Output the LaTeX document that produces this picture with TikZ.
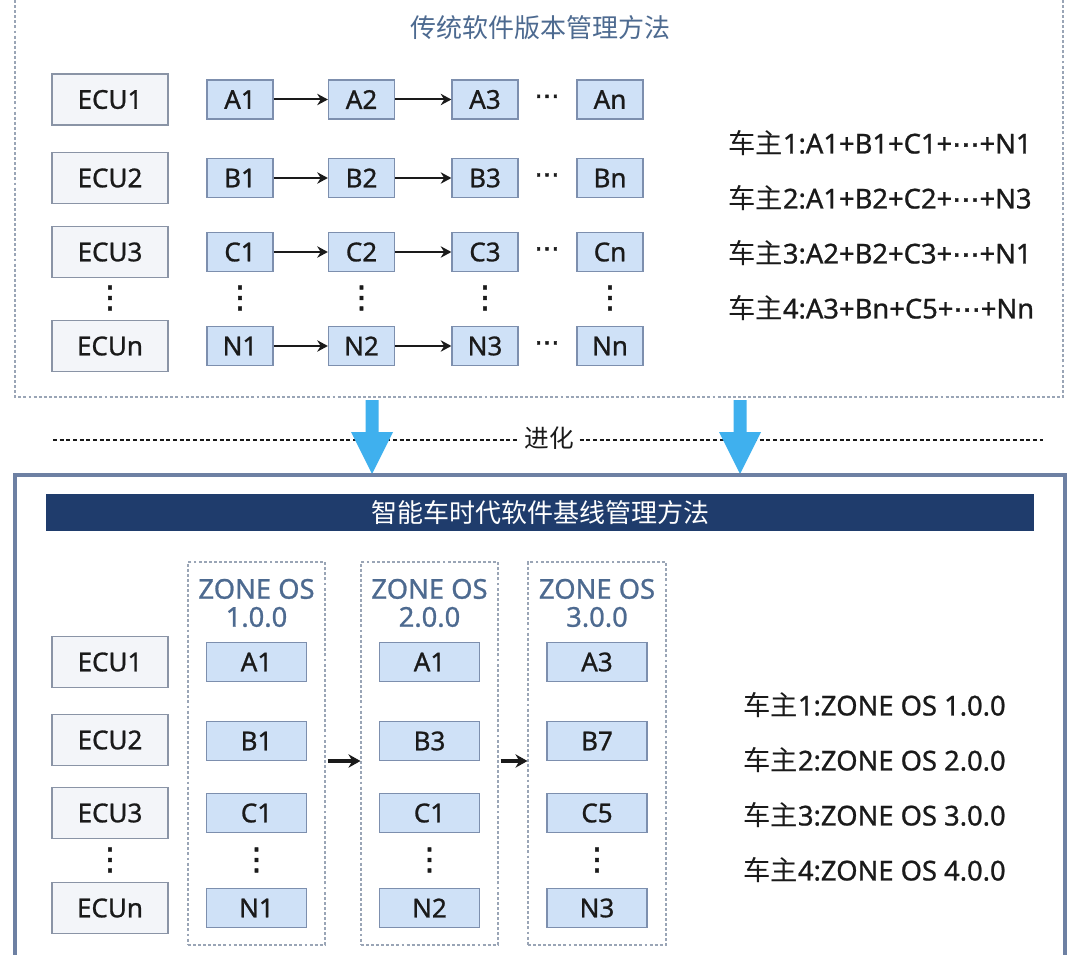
\documentclass[tikz,border=0pt]{standalone}
\usepackage{fontspec}
\setmainfont{Noto Sans}[RawFeature={embolden=0.9}]
\newfontfamily\cjk{Noto Sans CJK SC}
\newfontfamily\sym{DejaVu Sans}[RawFeature={embolden=1.8}]
\usetikzlibrary{arrows.meta}
\definecolor{eculine}{HTML}{8A94A6}
\definecolor{ecufill}{HTML}{F3F5F9}
\definecolor{verline}{HTML}{7D8FAE}
\definecolor{verfill}{HTML}{CFE1F7}
\definecolor{titleblue}{HTML}{4D6A90}
\definecolor{frameline}{HTML}{9AA5B6}
\definecolor{bigarrow}{HTML}{3FB0EE}
\definecolor{outerline}{HTML}{6D80A3}
\definecolor{barfill}{HTML}{1F3C6C}
\definecolor{txt}{HTML}{1A1A1A}
\tikzset{
  boxfont/.style={font=\fontsize{19.5}{22}\selectfont, text=txt},
  ecubox/.style={boxfont, draw=eculine, fill=ecufill, line width=0.9pt, minimum width=87pt, minimum height=38.25pt, inner sep=0pt},
  verbox/.style={boxfont, draw=verline, fill=verfill, line width=0.9pt, minimum width=49.5pt, minimum height=29.25pt, inner sep=0pt},
  zbox/.style={verbox, minimum width=75pt},
  vd/.style={font=\sym\fontsize{23}{24}\selectfont, text=txt, inner sep=0pt},
  hd/.style={font=\sym\fontsize{19}{20}\selectfont, text=txt, inner sep=0pt},
  flow/.style={-{Stealth[length=8pt,width=8.5pt]}, line width=1.5pt, draw=txt},
  zflow/.style={-{Stealth[length=9pt,width=10pt]}, line width=2.4pt, draw=txt, shorten <=1.5pt},
  owner/.style={anchor=west, font=\fontsize{20.5}{22}\selectfont, text=txt, inner sep=0pt},
  zframe/.style={draw=frameline, line width=0.8pt, dash pattern=on 2.2pt off 1.6pt, minimum height=287.25pt, inner sep=0pt},
  zhead/.style={align=center, font=\fontsize{20.5}{21}\selectfont, text=titleblue, inner sep=0pt},
  bigarr/.style={fill=bigarrow, draw=none},
}
\begin{document}
\begin{tikzpicture}[x=0.75pt,y=-0.75pt]
\useasboundingbox (0,0) rectangle (1080,955);
\fill[white] (0,0) rectangle (1080,955);

% ---------- top part ----------
\draw[frameline, line width=0.8pt, dash pattern=on 2.2pt off 1.6pt] (15,-10) rectangle (1063,397);
\node[font=\cjk\fontsize{19.5}{22}\selectfont, text=titleblue] (toptitle) at (540,28) {传统软件版本管理方法};

\node[ecubox] (e1) at (110,99.5) {ECU1};
\node[ecubox] (e2) at (110,178) {ECU2};
\node[ecubox] (e3) at (110,252) {ECU3};
\node[vd] (ed) at (110,298) {⋮};
\node[ecubox] (en) at (110,346) {ECUn};

\foreach \rw/\yy in {A/99.5,B/178,C/252,N/346}{
  \node[verbox] (\rw1) at (240,\yy) {\rw1};
  \node[verbox] (\rw2) at (361.5,\yy) {\rw2};
  \node[verbox] (\rw3) at (485,\yy) {\rw3};
  \node[hd] (\rw d) at (547,\yy) {⋯};
  \node[verbox] (\rw n) at (610,\yy) {\rw n};
  \draw[flow] (\rw1) -- (\rw2);
  \draw[flow] (\rw2) -- (\rw3);
}
\node[vd] (d1) at (240,298) {⋮};
\node[vd] (d2) at (361.5,298) {⋮};
\node[vd] (d3) at (485,298) {⋮};
\node[vd] (dn) at (610,298) {⋮};

\node[owner] (o1) at (728,143) {{\cjk 车主}1:A1+B1+C1+{\sym ⋯}+N1};
\node[owner] (o2) at (728,198) {{\cjk 车主}2:A1+B2+C2+{\sym ⋯}+N3};
\node[owner] (o3) at (728,253) {{\cjk 车主}3:A2+B2+C3+{\sym ⋯}+N1};
\node[owner] (o4) at (728,308) {{\cjk 车主}4:A3+Bn+C5+{\sym ⋯}+Nn};

% ---------- evolution ----------
\coordinate (dl) at (53,440);
\coordinate (dr) at (1043,440);
\draw[txt, line width=1.3pt, dash pattern=on 3pt off 2pt] (dl) -- (dr);
\node[fill=white, inner sep=3pt, font=\cjk\fontsize{18.5}{20}\selectfont, text=txt] (evo) at (549,438) {进化};
\foreach \ax in {372,740}{
  \fill[bigarr] (\ax-6.5,400) -- (\ax+6.5,400) -- (\ax+6.5,432) -- (\ax+21,432) -- (\ax,474) -- (\ax-21,432) -- (\ax-6.5,432) -- cycle;
}

% ---------- bottom part ----------
\draw[outerline, line width=2.3pt] (15,475) rectangle (1065,975);
\fill[barfill] (46,494) rectangle (1034,531);
\node[font=\cjk\fontsize{19.5}{22}\selectfont, text=white] (bartitle) at (540,512.5) {智能车时代软件基线管理方法};

\node[ecubox] (f1) at (110,662) {ECU1};
\node[ecubox] (f2) at (110,740) {ECU2};
\node[ecubox] (f3) at (110,813) {ECU3};
\node[vd] (fd) at (110,860) {⋮};
\node[ecubox] (fn) at (110,908) {ECUn};

\node[zframe, minimum width=102.75pt] (z1) at (256.5,753.5) {};
\node[zframe, minimum width=102.75pt] (z2) at (429.5,753.5) {};
\node[zframe, minimum width=103.5pt] (z3) at (597,753.5) {};

\node[zhead] (h1) at (256.5,603) {ZONE OS\\[0pt]1.0.0};
\node[zhead] (h2) at (429.5,603) {ZONE OS\\[0pt]2.0.0};
\node[zhead] (h3) at (597,603) {ZONE OS\\[0pt]3.0.0};

\foreach \zi/\zx/\la/\lb/\lc/\ln in {1/256.5/A1/B1/C1/N1, 2/429.5/A1/B3/C1/N2, 3/597/A3/B7/C5/N3}{
  \node[zbox] (za\zi) at (\zx,662) {\la};
  \node[zbox] (zb\zi) at (\zx,741) {\lb};
  \node[zbox] (zc\zi) at (\zx,813) {\lc};
  \node[vd] (zd\zi) at (\zx,860) {⋮};
  \node[zbox] (zn\zi) at (\zx,908) {\ln};
}
\coordinate (zr) at (0,761);
\draw[zflow] (z1.east |- zr) -- (z2.west |- zr);
\draw[zflow] (z2.east |- zr) -- (z3.west |- zr);

\node[owner] (p1) at (743,705) {{\cjk 车主}1:ZONE OS 1.0.0};
\node[owner] (p2) at (743,760) {{\cjk 车主}2:ZONE OS 2.0.0};
\node[owner] (p3) at (743,815) {{\cjk 车主}3:ZONE OS 3.0.0};
\node[owner] (p4) at (743,870) {{\cjk 车主}4:ZONE OS 4.0.0};
\end{tikzpicture}
\end{document}
